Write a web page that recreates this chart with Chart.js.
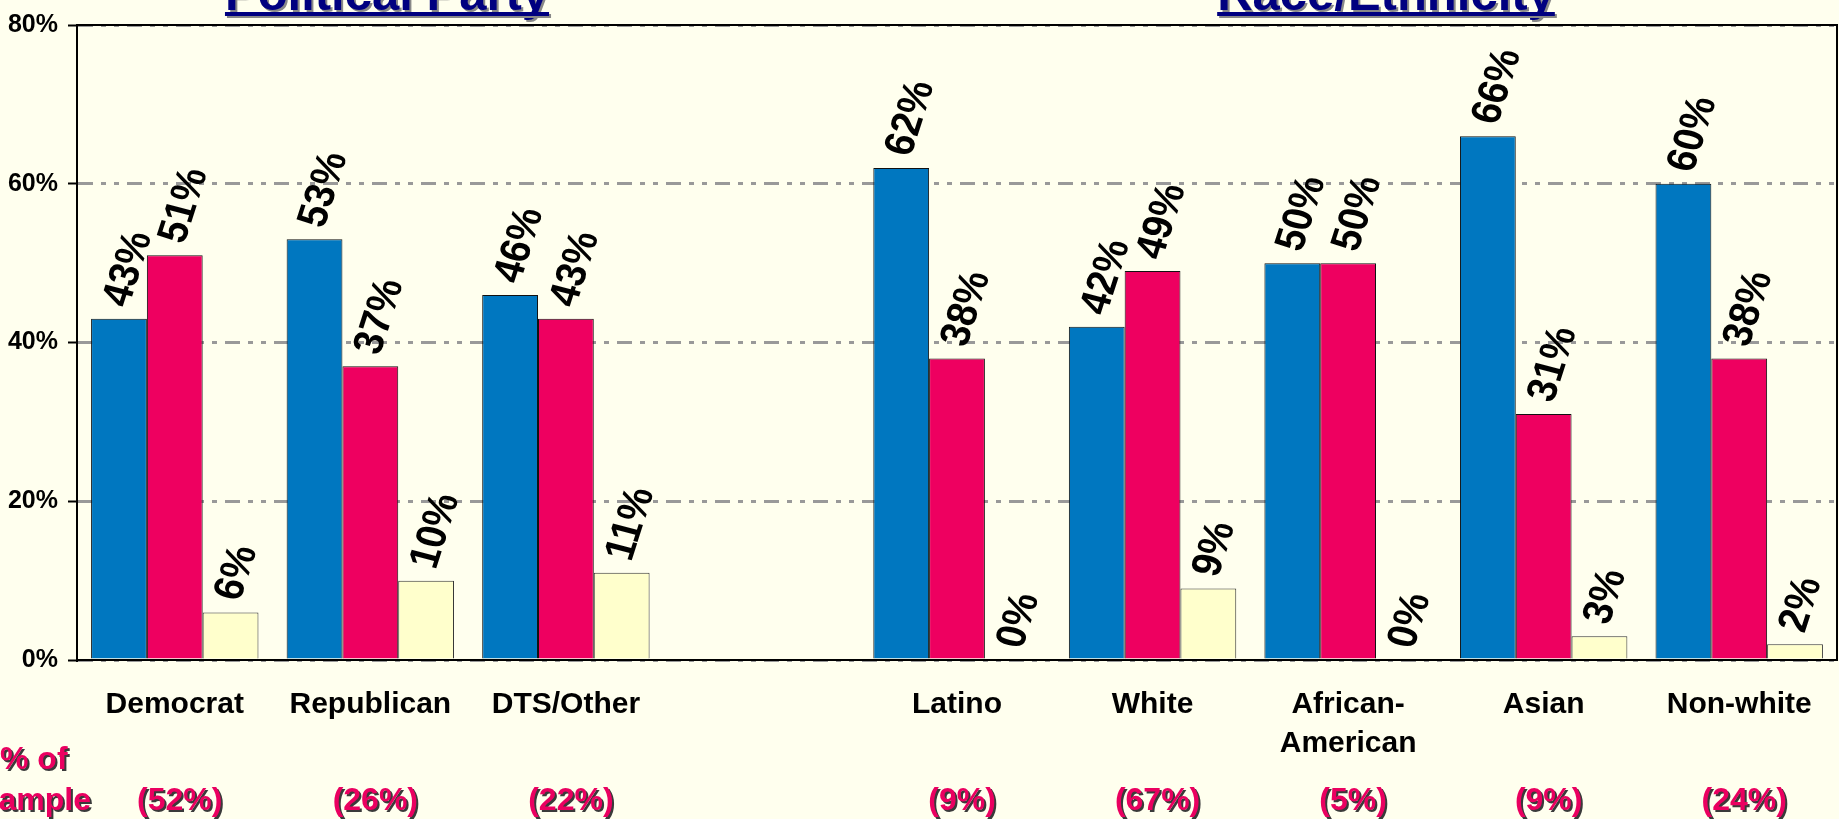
<!DOCTYPE html>
<html>
<head>
<meta charset="utf-8">
<script src="https://cdn.jsdelivr.net/npm/chart.js@4"></script>
<style>
  html, body { margin: 0; padding: 0; background: #FFFFEE; overflow: hidden; }
  #wrap { width: 1839px; height: 819px; }
</style>
</head>
<body>
<div id="wrap"><canvas id="votes"></canvas></div>
<script>
// values
const categories = ['Democrat', 'Republican', 'DTS/Other', '', 'Latino', 'White', ['African-', 'American'], 'Asian', 'Non-white'];
const blueValues = [43, 53, 46, null, 62, 42, 50, 66, 60];
const redValues = [51, 37, 43, null, 38, 49, 50, 31, 38];
const yellowValues = [6, 10, 11, null, 0, 9, 0, 3, 2];
const sampleShares = ['(52%)', '(26%)', '(22%)', '', '(9%)', '(67%)', '(5%)', '(9%)', '(24%)'];
const groupTitles = [
    { text: 'Political Party', x: 387 },
    { text: 'Race/Ethnicity', x: 1386 }
];

const FONT = 'Arial, "Liberation Sans", sans-serif';

const bgPlugin = {
    id: 'bg',
    beforeDraw(chart) {
        const ctx = chart.ctx;
        ctx.save();
        ctx.fillStyle = '#FFFFEE';
        ctx.fillRect(0, 0, chart.width, chart.height);
        ctx.restore();
    }
};

const labelsPlugin = {
    id: 'barLabels',
    afterDatasetsDraw(chart) {
        const ctx = chart.ctx;
        chart.data.datasets.forEach((ds, di) => {
            const meta = chart.getDatasetMeta(di);
            meta.data.forEach((bar, i) => {
                const v = ds.data[i];
                if (v === null || v === undefined) return;
                ctx.save();
                ctx.translate(bar.x - 2, bar.y - 13);
                ctx.scale(1.12, 1);
                ctx.rotate(-74 * Math.PI / 180);
                ctx.font = 'bold 38px ' + FONT;
                ctx.fillStyle = '#000';
                ctx.textAlign = 'left';
                ctx.textBaseline = 'middle';
                ctx.fillText(v + '%', 0, 0);
                ctx.restore();
            });
        });
    },
    afterDraw(chart) {
        const ctx = chart.ctx;
        const area = chart.chartArea;
        const xs = chart.scales.x;

        // frame on top and right
        ctx.save();
        ctx.strokeStyle = '#000';
        ctx.lineWidth = 2;
        ctx.beginPath();
        ctx.moveTo(area.left, area.top);
        ctx.lineTo(area.right, area.top);
        ctx.lineTo(area.right, area.bottom);
        ctx.stroke();
        ctx.restore();

        // group titles, cut at the top
        groupTitles.forEach(t => {
            ctx.save();
            ctx.font = 'bold 49px ' + FONT;
            ctx.textAlign = 'center';
            ctx.textBaseline = 'alphabetic';
            const w = ctx.measureText(t.text).width;
            ctx.shadowColor = '#888';
            ctx.shadowOffsetX = 2;
            ctx.shadowOffsetY = 2;
            ctx.fillStyle = '#000080';
            ctx.fillText(t.text, t.x, 10);
            ctx.fillRect(t.x - w / 2, 12, w, 4);
            ctx.restore();
        });

        // share of sample row
        ctx.save();
        ctx.font = 'bold 32px ' + FONT;
        ctx.fillStyle = '#EA0060';
        ctx.shadowColor = '#3a3a3a';
        ctx.shadowOffsetX = 2;
        ctx.shadowOffsetY = 2;
        ctx.textBaseline = 'alphabetic';
        ctx.textAlign = 'left';
        ctx.fillText('% of', 0, 769);
        ctx.textAlign = 'right';
        ctx.fillText('Sample', 91, 810);
        ctx.textAlign = 'center';
        sampleShares.forEach((s, i) => {
            if (!s) return;
            ctx.fillText(s, xs.getPixelForValue(i) + 5, 810);
        });
        ctx.restore();
    }
};

new Chart(document.getElementById('votes'), {
    type: 'bar',
    data: {
        labels: categories,
        datasets: [
            { data: blueValues, backgroundColor: '#0077C0', borderColor: '#111', borderWidth: 1 },
            { data: redValues, backgroundColor: '#EE0060', borderColor: '#111', borderWidth: 1 },
            { data: yellowValues, backgroundColor: '#FFFFCC', borderColor: '#333', borderWidth: 1 }
        ]
    },
    options: {
        responsive: true,
        maintainAspectRatio: false,
        animation: false,
        datasets: {
            bar: { categoryPercentage: 0.856, barPercentage: 1.0 }
        },
        layout: { padding: { top: 19, right: 2, left: 0, bottom: 0 } },
        plugins: {
            legend: { display: false },
            tooltip: { enabled: false }
        },
        scales: {
            x: {
                grid: { display: false },
                border: { color: '#000', width: 2 },
                ticks: {
                    color: '#000',
                    font: { family: FONT, size: 30, weight: 'bold', lineHeight: 1.3 },
                    padding: 17,
                    maxRotation: 0,
                    autoSkip: false
                },
                afterFit(s) { s.height = 159; }
            },
            y: {
                min: 0,
                max: 80,
                grid: {
                    color: '#999',
                    lineWidth: 3,
                    tickColor: '#000',
                    tickLength: 9,
                    tickWidth: 2
                },
                border: { color: '#000', width: 2, dash: [15, 8, 5, 8, 5, 8] },
                ticks: {
                    stepSize: 20,
                    color: '#000',
                    padding: 10,
                    font: { family: FONT, size: 25, weight: 'bold' },
                    callback: v => v + '%'
                },
                afterFit(s) { s.width = 77; }
            }
        }
    },
    plugins: [bgPlugin, labelsPlugin]
});
</script>
</body>
</html>
